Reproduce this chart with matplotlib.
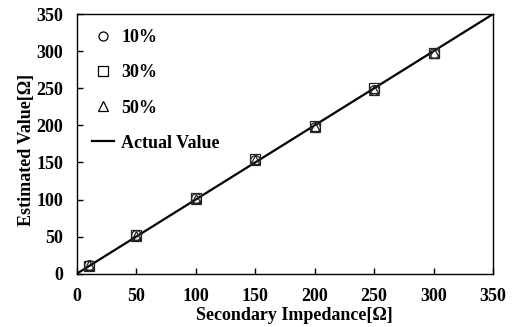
import matplotlib
matplotlib.use("Agg")
import matplotlib.pyplot as plt
from matplotlib.lines import Line2D

plt.rcParams['font.family'] = ['Liberation Serif', 'DejaVu Serif']
plt.rcParams['font.weight'] = 'bold'

# impedance settings [ohm]
impedance = [10, 50, 100, 150, 200, 250, 300]
est_10 = [12, 52, 102, 153, 198, 248, 297]
est_30 = [11, 52, 102, 154, 199, 251, 298]
est_50 = [12, 51, 101, 153, 198, 247, 298]
actual_x = [0, 350]
actual_y = [0, 350]
ticks = [0, 50, 100, 150, 200, 250, 300, 350]

fig = plt.figure(figsize=(5.12, 3.27), dpi=100)
ax = fig.add_axes([0.150, 0.163, 0.813, 0.794])

ax.plot(actual_x, actual_y, color='black', lw=1.6, zorder=2)
ax.plot(impedance, est_10, 'o', ms=7, mfc='none', mec='#222222', mew=0.9, zorder=3)
ax.plot(impedance, est_30, 's', ms=7, mfc='none', mec='#222222', mew=0.9, zorder=3)
ax.plot(impedance, est_50, '^', ms=7, mfc='none', mec='#222222', mew=0.9, zorder=3)

ax.set_xlim(0, 350)
ax.set_ylim(0, 350)
ax.set_xticks(ticks)
ax.set_yticks(ticks)
ax.tick_params(direction='in', length=4, width=1, labelsize=13)
ax.tick_params(axis='x', pad=10)
ax.tick_params(axis='y', pad=10)
for lab in ax.get_xticklabels() + ax.get_yticklabels():
    lab.set_fontweight('bold')
for s in ax.spines.values():
    s.set_linewidth(1)

ax.set_xlabel('Secondary Impedance[Ω]', fontsize=13, fontweight='bold')
ax.set_ylabel('Estimated Value[Ω]', fontsize=13, fontweight='bold')
ax.xaxis.set_label_coords(0.523, -0.128)
ax.yaxis.set_label_coords(-0.100, 0.478)

handles = [
    Line2D([], [], ls='none', marker='o', ms=6.5, mfc='none', mec='black', mew=0.9),
    Line2D([], [], ls='none', marker='s', ms=6.5, mfc='none', mec='black', mew=0.9),
    Line2D([], [], ls='none', marker='^', ms=6.5, mfc='none', mec='black', mew=0.9),
    Line2D([], [], color='black', lw=1.6),
]
ax.legend(handles, ['10%', '30%', '50%', 'Actual Value'], loc='upper left',
          frameon=False, prop={'size': 13, 'weight': 'bold'},
          handlelength=1.2, labelspacing=1.0, borderaxespad=0.45, handletextpad=0.4)

fig.savefig('out.png', dpi=100)
